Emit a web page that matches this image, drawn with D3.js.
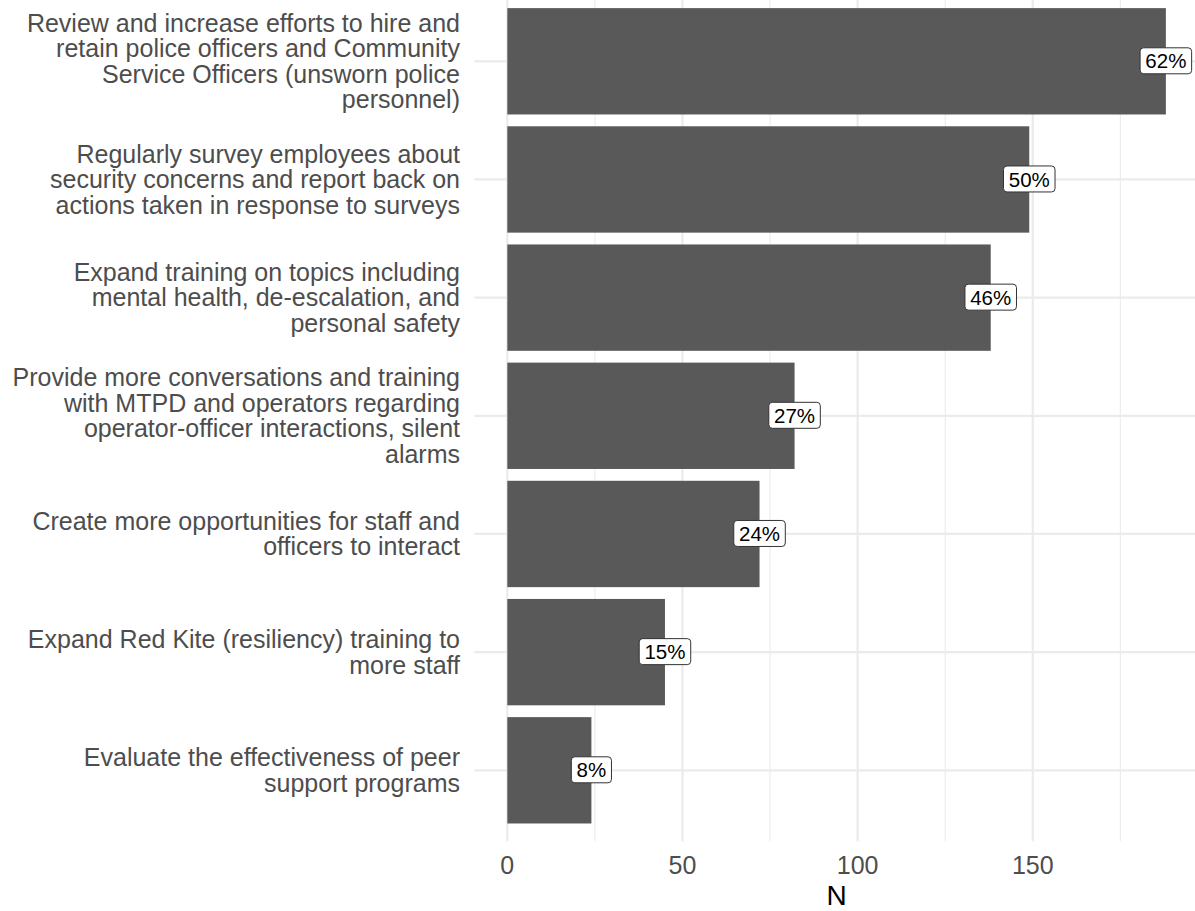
<!DOCTYPE html>
<html>
<head>
<meta charset="utf-8">
<script src="https://cdn.jsdelivr.net/npm/d3@7"></script>
<style>
  html, body { margin: 0; padding: 0; background: #ffffff; }
  svg { display: block; font-family: "Liberation Sans", Arial, Helvetica, sans-serif; }
</style>
</head>
<body>
<svg id="chart" width="1195" height="911"></svg>
<script>
// Recommended actions, ordered from most to least selected
const categories = [
  "Review and increase efforts to hire and retain police officers and Community Service Officers (unsworn police personnel)",
  "Regularly survey employees about security concerns and report back on actions taken in response to surveys",
  "Expand training on topics including mental health, de-escalation, and personal safety",
  "Provide more conversations and training with MTPD and operators regarding operator-officer interactions, silent alarms",
  "Create more opportunities for staff and officers to interact",
  "Expand Red Kite (resiliency) training to more staff",
  "Evaluate the effectiveness of peer support programs"
];
const counts = [188, 149, 138, 82, 72, 45, 24];
const percentLabels = ["62%", "50%", "46%", "27%", "24%", "15%", "8%"];
const xTicks = [0, 50, 100, 150];
const xMinorTicks = [25, 75, 125, 175];
const xTitle = "N";

const data = categories.map((c, i) => ({ category: c, n: counts[i], label: percentLabels[i] }));

const svg = d3.select("#chart");
const panel = { left: 474.4, right: 1198.8, top: -9.6, bottom: 841.2 };

// Continuous axis with 5% expansion on both sides
const maxN = d3.max(counts);
const pad = maxN * 0.05;
const x = d3.scaleLinear().domain([-pad, maxN + pad]).range([panel.left, panel.right]);

const y = d3.scaleBand()
  .domain(categories)
  .range([panel.top, panel.bottom])
  .paddingInner(0.1)
  .paddingOuter(0.15);

// Greedy word wrap at 40 characters
function wrap(text, width) {
  const words = text.split(" ");
  const lines = [];
  let cur = "";
  words.forEach(w => {
    if (cur === "") cur = w;
    else if ((cur + " " + w).length <= width) cur += " " + w;
    else { lines.push(cur); cur = w; }
  });
  if (cur) lines.push(cur);
  return lines;
}

const grid = svg.append("g");
// Minor vertical gridlines
grid.selectAll("line.minor").data(xMinorTicks).join("line")
  .attr("x1", d => x(d)).attr("x2", d => x(d))
  .attr("y1", panel.top).attr("y2", panel.bottom)
  .attr("stroke", "#EBEBEB").attr("stroke-width", 1.1);
// Major vertical gridlines
grid.selectAll("line.majorx").data(xTicks).join("line")
  .attr("x1", d => x(d)).attr("x2", d => x(d))
  .attr("y1", panel.top).attr("y2", panel.bottom)
  .attr("stroke", "#EBEBEB").attr("stroke-width", 2.2);
// Major horizontal gridlines at each category
grid.selectAll("line.majory").data(categories).join("line")
  .attr("x1", panel.left).attr("x2", panel.right)
  .attr("y1", d => y(d) + y.bandwidth() / 2).attr("y2", d => y(d) + y.bandwidth() / 2)
  .attr("stroke", "#EBEBEB").attr("stroke-width", 2.2);

// Bars
svg.append("g").selectAll("rect").data(data).join("rect")
  .attr("x", x(0))
  .attr("y", d => y(d.category))
  .attr("width", d => x(d.n) - x(0))
  .attr("height", y.bandwidth())
  .attr("fill", "#595959");

// Percentage labels centred on the bar ends
const labels = svg.append("g").selectAll("g").data(data).join("g")
  .attr("transform", d => `translate(${x(d.n)},${y(d.category) + y.bandwidth() / 2})`);
labels.each(function(d) {
  const g = d3.select(this);
  const rect = g.append("rect");
  const t = g.append("text")
    .attr("text-anchor", "middle")
    .attr("dy", "0.35em")
    .attr("font-size", 20.5)
    .attr("fill", "#000000")
    .text(d.label);
  const w = t.node().getComputedTextLength() + 10.5;
  const h = 26;
  rect.attr("x", -w / 2).attr("y", -h / 2 - 0.5).attr("width", w).attr("height", h)
    .attr("rx", 3.5).attr("ry", 3.5)
    .attr("fill", "#ffffff").attr("stroke", "#333333").attr("stroke-width", 1);
});

// Category axis labels
const fs = 25;
const lineGap = 25.5;
const yAxis = svg.append("g");
categories.forEach(c => {
  const lines = wrap(c, 40);
  const cy = y(c) + y.bandwidth() / 2;
  const first = cy - (lines.length - 1) * lineGap / 2;
  const t = yAxis.append("text")
    .attr("text-anchor", "end")
    .attr("font-size", fs)
    .attr("fill", "#4D4D4D");
  lines.forEach((l, i) => {
    t.append("tspan").attr("x", 460).attr("y", first + i * lineGap).attr("dy", "0.35em").text(l);
  });
});

// X tick labels
svg.append("g").selectAll("text").data(xTicks).join("text")
  .attr("x", d => x(d)).attr("y", 874)
  .attr("text-anchor", "middle")
  .attr("font-size", fs)
  .attr("fill", "#4D4D4D")
  .text(d => d3.format("d")(d));

// X axis title
svg.append("text")
  .attr("x", (panel.left + panel.right) / 2)
  .attr("y", 905)
  .attr("text-anchor", "middle")
  .attr("font-size", 28)
  .attr("fill", "#000000")
  .text(xTitle);
</script>
</body>
</html>
